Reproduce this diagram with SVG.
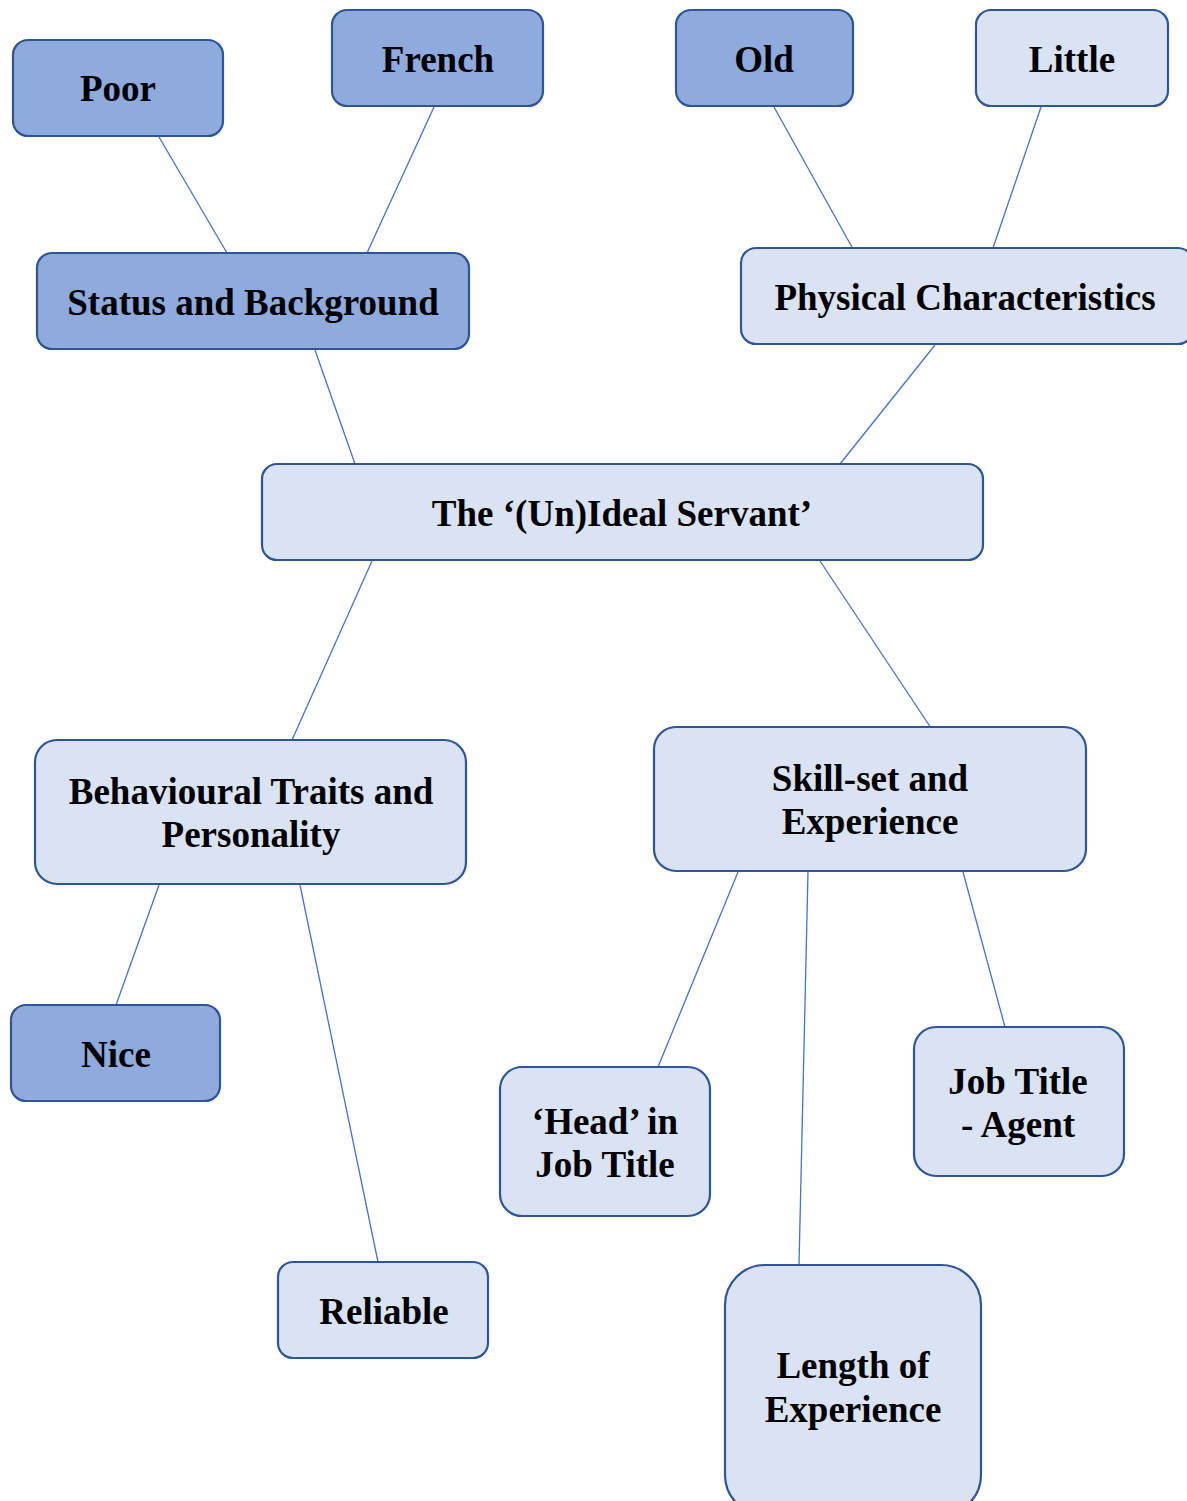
<svg xmlns="http://www.w3.org/2000/svg" width="1187" height="1501" viewBox="0 0 1187 1501">
  <style>
    .box { stroke: #2f5597; stroke-width: 2.2; }
    .dark { fill: #8faadc; }
    .light { fill: #dae3f3; }
    .lbl { font-family: "Liberation Serif", "Times New Roman", serif; font-weight: bold; font-size: 37px; fill: #000; text-anchor: middle; }
    .link { stroke: #4472c4; stroke-width: 1.3; fill: none; }
  </style>
  <rect width="1187" height="1501" fill="#ffffff"/>

  <!-- connectors -->
  <g id="connectors">
    <line class="link" x1="159" y1="137" x2="227" y2="253"/>
    <line class="link" x1="434" y1="107" x2="367" y2="253"/>
    <line class="link" x1="774" y1="107" x2="853" y2="249"/>
    <line class="link" x1="1041" y1="107" x2="993" y2="248"/>
    <line class="link" x1="315" y1="350" x2="355" y2="464"/>
    <line class="link" x1="935" y1="345" x2="840" y2="464"/>
    <line class="link" x1="372" y1="561" x2="292" y2="740"/>
    <line class="link" x1="820" y1="561" x2="931" y2="728"/>
    <line class="link" x1="159" y1="885" x2="116" y2="1005"/>
    <line class="link" x1="300" y1="885" x2="378" y2="1262"/>
    <line class="link" x1="738" y1="872" x2="658" y2="1067"/>
    <line class="link" x1="808" y1="872" x2="799" y2="1265"/>
    <line class="link" x1="963" y1="872" x2="1005" y2="1027"/>
  </g>

  <g id="poor">
    <rect class="box dark" x="13" y="40" width="210" height="96" rx="15"/>
    <text class="lbl" x="118" y="101">Poor</text>
  </g>
  <g id="french">
    <rect class="box dark" x="332" y="10" width="211" height="96" rx="15"/>
    <text class="lbl" x="438" y="72">French</text>
  </g>
  <g id="old">
    <rect class="box dark" x="676" y="10" width="177" height="96" rx="15"/>
    <text class="lbl" x="764" y="72">Old</text>
  </g>
  <g id="little">
    <rect class="box light" x="976" y="10" width="192" height="96" rx="15"/>
    <text class="lbl" x="1072" y="72">Little</text>
  </g>
  <g id="status">
    <rect class="box dark" x="37" y="253" width="432" height="96" rx="15"/>
    <text class="lbl" x="253" y="315">Status and Background</text>
  </g>
  <g id="physical">
    <rect class="box light" x="741" y="248" width="452" height="96" rx="15"/>
    <text class="lbl" x="965" y="310">Physical Characteristics</text>
  </g>
  <g id="servant">
    <rect class="box light" x="262" y="464" width="721" height="96" rx="15"/>
    <text class="lbl" x="622" y="526">The ‘(Un)Ideal Servant’</text>
  </g>
  <g id="behavioural">
    <rect class="box light" x="35" y="740" width="431" height="144" rx="22"/>
    <text class="lbl" x="251" y="804">Behavioural Traits and</text>
    <text class="lbl" x="251" y="847">Personality</text>
  </g>
  <g id="skillset">
    <rect class="box light" x="654" y="727" width="432" height="144" rx="22"/>
    <text class="lbl" x="870" y="791">Skill-set and</text>
    <text class="lbl" x="870" y="834">Experience</text>
  </g>
  <g id="nice">
    <rect class="box dark" x="11" y="1005" width="209" height="96" rx="15"/>
    <text class="lbl" x="116" y="1067">Nice</text>
  </g>
  <g id="reliable">
    <rect class="box light" x="278" y="1262" width="210" height="96" rx="15"/>
    <text class="lbl" x="384" y="1324">Reliable</text>
  </g>
  <g id="head">
    <rect class="box light" x="500" y="1067" width="210" height="149" rx="22"/>
    <text class="lbl" x="605" y="1134">‘Head’ in</text>
    <text class="lbl" x="605" y="1177">Job Title</text>
  </g>
  <g id="agent">
    <rect class="box light" x="914" y="1027" width="210" height="149" rx="22"/>
    <text class="lbl" x="1018" y="1094">Job Title</text>
    <text class="lbl" x="1018" y="1137">- Agent</text>
  </g>
  <g id="length">
    <rect class="box light" x="725" y="1265" width="256" height="250" rx="40"/>
    <text class="lbl" x="853" y="1378">Length of</text>
    <text class="lbl" x="853" y="1422">Experience</text>
  </g>
</svg>
